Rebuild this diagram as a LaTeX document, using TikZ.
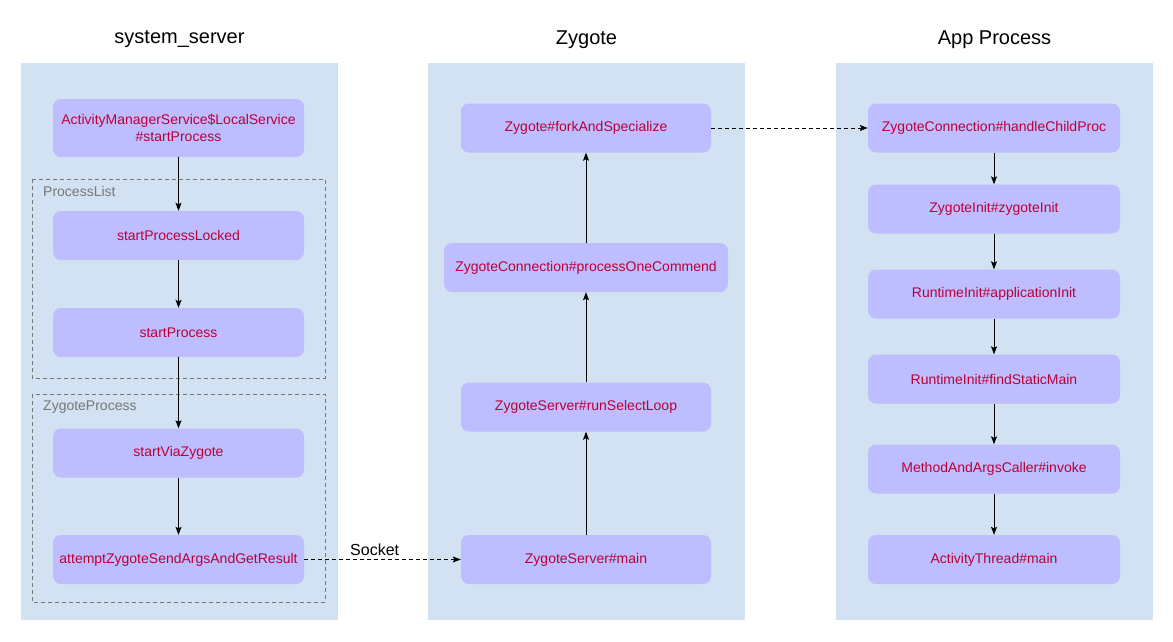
\documentclass[tikz,border=0pt]{standalone}
\usepackage{fontspec}
\setmainfont{Liberation Sans}
\usepackage{tikz}
\usetikzlibrary{positioning,arrows.meta}

\definecolor{panelblue}{HTML}{D2E2F3}
\definecolor{boxviolet}{HTML}{BDBDFF}
\definecolor{methodred}{HTML}{BC0036}
\definecolor{groupgray}{HTML}{777777}

\begin{document}
\begin{tikzpicture}[x=1pt,y=-1pt,
    panel/.style={fill=panelblue,draw=none},
    group/.style={draw=groupgray,line width=0.6pt,dash pattern=on 4pt off 3pt},
    grouplabel/.style={anchor=west,inner sep=0pt,text=groupgray,font=\fontsize{14}{16}\selectfont},
    title/.style={font=\fontsize{20}{24}\selectfont},
    method/.style={fill=boxviolet,rounded corners=8pt,minimum width=251pt,minimum height=49pt,
      text=methodred,align=center,inner sep=2pt,font=\fontsize{14}{17}\selectfont}]
  \useasboundingbox (0,0) rectangle (1173,641);
  % columns
  \fill[panel] (21,63) rectangle (338,620);
  \fill[panel] (428,63) rectangle (745,620);
  \fill[panel] (836,63) rectangle (1153,620);
  \node[title] (t1) at (179.5,39.5) {system\_server};
  \node[title] (t2) at (586.5,39.5) {Zygote};
  \node[title] (t3) at (994.5,39.5) {App Process};
  % groups
  \draw[group] (32,179) rectangle (325,378);
  \draw[group] (32,394) rectangle (325,602);
  \node[grouplabel] (gpl) at (43,191) {ProcessList};
  \node[grouplabel] (gzp) at (43,407) {ZygoteProcess};
  % system_server
  \node[method,minimum height=58pt] (ams) at (178.5,128) {ActivityManagerService\$LocalService\\\#startProcess};
  \node[method] (spl) at (178.5,235.5) {startProcessLocked};
  \node[method] (sp)  at (178.5,332.5) {startProcess};
  \node[method] (svz) at (178.5,453) {startViaZygote};
  \node[method] (azs) at (178.5,559.5) {attemptZygoteSendArgsAndGetResult};
  % zygote
  \node[method,minimum width=250pt] (fas) at (586,128) {Zygote\#forkAndSpecialize};
  \node[method,minimum width=284pt] (poc) at (586,267.5) {ZygoteConnection\#processOneCommend};
  \node[method,minimum width=250pt] (rsl) at (586,407) {ZygoteServer\#runSelectLoop};
  \node[method,minimum width=250pt] (zsm) at (586,559.5) {ZygoteServer\#main};
  % app process
  \node[method,minimum width=252pt] (hcp) at (994,128) {ZygoteConnection\#handleChildProc};
  \node[method,minimum width=252pt] (zi)  at (994,209) {ZygoteInit\#zygoteInit};
  \node[method,minimum width=252pt] (ai)  at (994,294) {RuntimeInit\#applicationInit};
  \node[method,minimum width=252pt] (fsm) at (994,379) {RuntimeInit\#findStaticMain};
  \node[method,minimum width=252pt] (mac) at (994,469) {MethodAndArgsCaller\#invoke};
  \node[method,minimum width=252pt] (atm) at (994,559.5) {ActivityThread\#main};
  \path[-{Stealth[length=8pt,width=6pt,inset=1.5pt]},line width=1pt]
    (ams) edge (spl)
    (spl) edge (sp)
    (sp) edge (svz)
    (svz) edge (azs)
    (zsm) edge (rsl)
    (rsl) edge (poc)
    (poc) edge (fas)
    (hcp) edge (zi)
    (zi) edge (ai)
    (ai) edge (fsm)
    (fsm) edge (mac)
    (mac) edge (atm)
    (azs) edge [dash pattern=on 4pt off 3pt] node [above,pos=0.45,font=\fontsize{16}{19}\selectfont] {Socket} (zsm)
    (fas) edge [dash pattern=on 4pt off 3pt] (hcp);
\end{tikzpicture}
\end{document}
